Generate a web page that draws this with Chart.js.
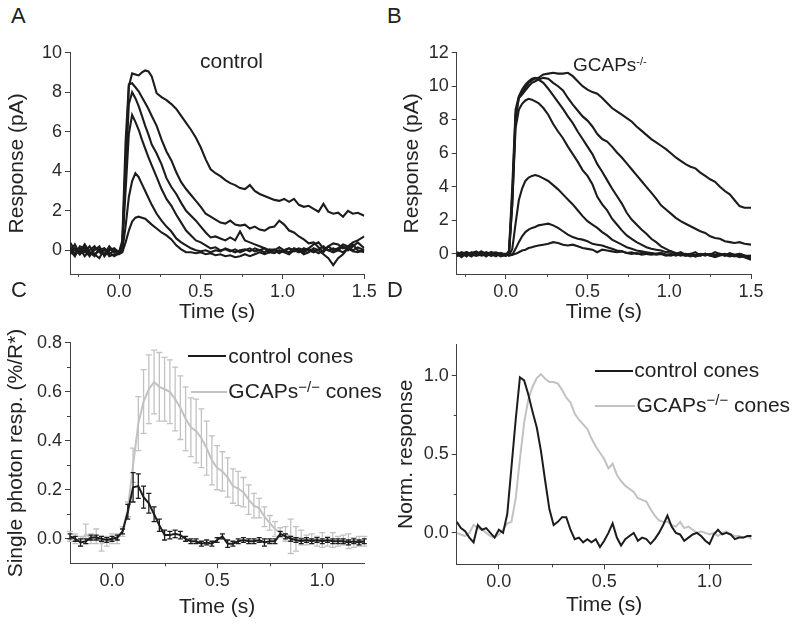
<!DOCTYPE html>
<html>
<head>
<meta charset="utf-8">
<script src="https://cdn.jsdelivr.net/npm/chart.js@4.4.1/dist/chart.umd.min.js"></script>
<style>
  body { margin: 0; width: 795px; height: 630px; position: relative; overflow: hidden; background: #fff;
         font-family: "Liberation Sans", Arial, sans-serif; color: #222; }
  canvas { position: absolute; }
  .lbl { position: absolute; white-space: nowrap; line-height: 1; }
  .sw { position: absolute; height: 2px; }
  .sp { position: relative; font-size: 15px; top: -6.5px; }
</style>
</head>
<body>
<canvas id="chartA" width="379" height="288" style="left:5px;top:37px"></canvas>
<canvas id="chartB" width="370" height="288" style="left:400px;top:37px"></canvas>
<canvas id="chartC" width="380" height="293" style="left:4px;top:327px"></canvas>
<canvas id="chartD" width="377" height="290" style="left:394px;top:328px"></canvas>

<div class="lbl" style="left:11px;top:4.9px;font-size:22px">A</div>
<div class="lbl" style="left:387px;top:4.9px;font-size:22px">B</div>
<div class="lbl" style="left:11px;top:278.9px;font-size:22px">C</div>
<div class="lbl" style="left:387px;top:278.9px;font-size:22px">D</div>

<div class="lbl" style="left:200px;top:49.9px;font-size:21px">control</div>
<div class="lbl" style="left:573px;top:54.9px;font-size:19px">GCAPs<span style="position:relative;font-size:11px;top:-5.5px">-/-</span></div>

<div class="sw" style="left:188px;top:355px;width:38px;background:#1c1c1c"></div>
<div class="lbl" style="left:228.3px;top:344.7px;font-size:21px">control cones</div>
<div class="sw" style="left:191px;top:391px;width:36px;background:#c2c2c2"></div>
<div class="lbl" style="left:228.3px;top:380.2px;font-size:21px">GCAPs<span class="sp">−/−</span> cones</div>

<div class="sw" style="left:595px;top:370px;width:38px;background:#1c1c1c"></div>
<div class="lbl" style="left:634.3px;top:358.9px;font-size:21px">control cones</div>
<div class="sw" style="left:595px;top:405px;width:40px;background:#c2c2c2"></div>
<div class="lbl" style="left:636.5px;top:393.9px;font-size:21px">GCAPs<span class="sp">−/−</span> cones</div>

<script>
// --- time bases (s) ---
const timeAB = [-0.3,-0.27,-0.24,-0.21,-0.18,-0.15,-0.12,-0.09,-0.06,-0.03,
  0,0.02,0.04,0.06,0.08,0.1,0.12,0.14,0.16,0.18,0.2,
  0.23,0.26,0.29,0.32,0.35,0.38,0.41,0.44,0.47,0.5,
  0.53,0.56,0.59,0.62,0.65,0.68,0.71,0.74,0.77,0.8,
  0.83,0.86,0.89,0.92,0.95,0.98,1.01,1.04,1.07,1.1,
  1.13,1.16,1.19,1.22,1.25,1.28,1.31,1.34,1.37,1.4,
  1.43,1.46,1.5];
const timeC = [-0.2,-0.175,-0.15,-0.125,-0.1,-0.075,-0.05,-0.025,0,0.025,
  0.05,0.075,0.1,0.125,0.15,0.175,0.2,0.225,0.25,0.275,
  0.3,0.325,0.35,0.375,0.4,0.425,0.45,0.475,0.5,0.525,
  0.55,0.575,0.6,0.625,0.65,0.675,0.7,0.725,0.75,0.775,
  0.8,0.825,0.85,0.875,0.9,0.925,0.95,0.975,1.0,1.025,
  1.05,1.075,1.1,1.125,1.15,1.175,1.2];
const timeD = [-0.2,-0.18,-0.16,-0.14,-0.12,-0.1,-0.08,-0.06,-0.04,-0.02,
  0,0.02,0.04,0.06,0.08,0.1,0.12,0.14,0.16,0.18,
  0.2,0.22,0.24,0.26,0.28,0.3,0.32,0.34,0.36,0.38,
  0.4,0.42,0.44,0.46,0.48,0.5,0.52,0.54,0.56,0.58,
  0.6,0.62,0.64,0.66,0.68,0.7,0.72,0.74,0.76,0.78,
  0.8,0.82,0.84,0.86,0.88,0.9,0.92,0.94,0.96,0.98,
  1.0,1.02,1.04,1.06,1.08,1.1,1.12,1.14,1.16,1.18,
  1.2];

// --- A: control, pA ---
const ctrl1 = [0.2,-0.2,0.1,-0.3,0.0,0.2,-0.1,-0.2,0.1,-0.1,
  -0.1,0.3,4.5,8.3,8.95,8.9,8.85,9.0,9.1,9.05,8.8,
  7.95,7.75,7.6,7.4,7.15,6.8,6.45,6.1,5.7,5.2,
  4.6,4.1,3.9,3.75,3.55,3.4,3.3,3.15,3.1,3.3,
  3.0,2.85,2.75,2.65,2.55,2.5,2.6,2.45,2.6,2.3,
  2.2,2.25,2.1,1.95,2.35,1.95,1.85,1.9,1.7,2.0,
  1.85,1.9,1.75];
const ctrl2 = [-0.1,0.3,-0.2,0.0,-0.3,0.1,0.0,-0.2,0.2,-0.1,
  -0.1,0.5,5.5,8.4,8.45,8.25,8.05,7.75,7.45,7.15,6.8,
  6.3,5.6,5.0,4.55,3.95,3.45,3.1,2.8,2.5,2.2,
  1.85,1.7,1.55,1.4,1.35,1.5,1.3,1.25,1.3,1.1,
  1.2,1.05,1.0,1.15,1.2,1.5,1.3,1.0,0.9,0.7,
  0.55,0.35,0.4,0.15,-0.1,0.2,0.35,0.3,0.1,0.2,
  0.4,0.5,0.7];
const ctrl3 = [0.4,0.0,-0.2,0.2,-0.1,-0.3,0.1,0.0,-0.2,0.0,
  -0.1,0.3,4.0,7.4,8.0,7.7,7.3,6.8,6.3,5.85,5.35,
  4.9,4.35,3.65,3.2,2.85,2.4,2.0,1.75,1.5,1.2,
  0.9,0.65,0.7,0.6,0.5,0.65,0.5,0.95,0.5,0.4,
  0.3,0.2,0.1,0.0,0.05,-0.1,0.0,0.1,-0.05,0.0,
  -0.1,0.05,0.0,-0.15,0.0,0.2,0.0,0.1,0.3,0.2,
  0.0,0.15,0.0];
const ctrl4 = [-0.2,0.1,0.0,-0.1,0.2,-0.2,-0.4,0.1,-0.1,-0.3,
  -0.15,0.2,3.0,5.9,6.85,6.5,6.1,5.6,5.15,4.7,4.3,
  3.7,3.1,2.6,2.25,1.8,1.4,1.0,0.75,0.5,0.4,
  0.25,0.1,0.15,0.0,0.05,-0.05,0.05,-0.1,0.0,0.1,
  -0.05,0.0,0.1,-0.1,0.0,0.15,0.0,-0.1,0.1,0.0,
  -0.2,-0.1,0.1,0.0,-0.2,-0.4,-0.75,-0.4,-0.2,0.1,
  0.3,0.0,-0.1];
const ctrl5 = [0.0,-0.3,0.2,0.1,-0.2,0.0,0.2,-0.3,0.0,0.1,
  -0.1,0.0,1.2,2.7,3.5,3.9,3.7,3.35,3.0,2.65,2.3,
  1.85,1.5,1.2,0.95,0.6,0.4,0.25,0.1,0.0,-0.05,
  0.0,-0.1,0.0,-0.05,0.1,0.0,-0.1,0.0,0.05,-0.05,
  0.1,0.0,-0.1,0.05,0.0,-0.15,0.0,0.1,0.0,-0.1,
  0.1,0.0,-0.1,0.05,0.2,0.0,-0.1,0.0,0.2,0.0,
  0.2,0.4,0.1];
const ctrl6 = [0.1,0.0,-0.1,0.3,-0.1,-0.2,0.0,0.1,-0.3,-0.2,
  -0.2,-0.1,0.4,1.0,1.45,1.65,1.7,1.65,1.6,1.45,1.3,
  1.1,0.9,0.75,0.55,0.25,0.05,-0.1,-0.1,-0.15,-0.1,
  -0.2,-0.15,-0.25,-0.2,-0.3,-0.25,-0.35,-0.3,-0.2,-0.3,
  -0.2,-0.1,-0.2,-0.1,-0.15,0.0,-0.1,-0.2,0.0,0.1,
  0.0,0.1,0.3,0.4,0.1,0.0,0.1,0.0,-0.1,0.1,
  -0.05,-0.1,0.0];

// --- B: GCAPs-/-, pA ---
const gcap1 = [-0.1,0.05,-0.15,0.1,-0.05,0.0,-0.1,0.1,-0.05,0.0,
  -0.1,0.0,3.0,8.0,9.3,9.6,9.9,10.2,10.35,10.45,10.5,
  10.7,10.75,10.8,10.75,10.75,10.8,10.6,10.3,10.0,9.8,
  9.65,9.55,9.3,9.0,8.7,8.5,8.3,8.1,7.9,7.6,
  7.35,7.1,6.85,6.65,6.45,6.25,6.0,5.75,5.55,5.35,
  5.2,5.1,4.85,4.65,4.45,4.3,4.0,3.75,3.55,3.2,
  2.85,2.75,2.75];
const gcap2 = [0.05,-0.1,0.0,-0.15,0.1,-0.05,0.05,-0.1,0.0,-0.15,
  -0.05,0.1,3.5,8.3,9.3,9.5,9.75,10.0,10.2,10.3,10.4,
  10.5,10.45,10.2,10.0,9.75,9.3,8.9,8.55,8.2,7.95,
  7.6,7.15,6.85,6.7,6.4,6.05,5.75,5.4,5.05,4.7,
  4.35,4.0,3.65,3.3,2.9,2.65,2.4,2.15,1.95,1.8,
  1.65,1.5,1.35,1.25,1.05,0.95,0.9,0.75,0.7,0.65,
  0.7,0.6,0.55];
const gcap3 = [-0.15,0.0,0.1,-0.05,-0.1,0.15,0.0,-0.1,0.05,-0.05,
  -0.1,0.2,4.0,8.6,9.4,9.8,10.1,10.3,10.45,10.5,10.4,
  10.2,9.85,9.45,9.05,8.65,8.2,7.8,7.3,6.85,6.4,
  5.95,5.35,4.9,4.4,3.9,3.45,3.0,2.45,2.05,1.75,
  1.45,1.2,0.9,0.7,0.45,0.3,0.15,0.05,0.0,-0.1,
  -0.05,-0.15,-0.1,0.0,-0.1,-0.2,-0.1,-0.05,-0.15,-0.1,
  -0.2,-0.15,-0.3];
const gcap4 = [0.0,-0.2,0.05,0.0,-0.1,-0.05,0.1,0.0,-0.15,0.05,
  -0.1,0.1,3.0,7.5,8.6,8.95,9.15,9.25,9.2,9.1,9.0,
  8.7,8.3,7.75,7.3,6.9,6.4,5.95,5.5,5.0,4.65,
  4.15,3.4,2.95,2.6,2.1,1.75,1.4,1.1,0.9,0.7,
  0.55,0.4,0.3,0.25,0.2,0.1,0.15,0.0,0.1,-0.05,
  0.0,0.1,-0.1,0.0,-0.05,0.1,0.0,-0.1,0.05,-0.05,
  0.0,-0.1,-0.2];
const gcap5 = [0.1,0.0,-0.1,0.05,0.15,-0.1,-0.05,0.1,0.0,-0.1,
  -0.05,-0.1,0.3,1.8,3.2,3.9,4.35,4.55,4.65,4.7,4.65,
  4.5,4.35,4.1,3.85,3.55,3.25,2.95,2.6,2.25,1.95,
  1.75,1.55,1.3,1.1,0.85,0.7,0.55,0.4,0.3,0.2,
  0.15,0.1,0.05,0.0,0.05,-0.05,0.0,-0.1,0.0,-0.05,
  -0.15,-0.05,0.0,-0.1,0.0,-0.1,-0.05,0.0,-0.1,-0.15,
  -0.05,-0.2,-0.35];
const gcap6 = [-0.05,0.1,0.0,-0.1,0.05,0.1,-0.15,0.05,0.1,0.0,
  0.0,-0.1,-0.05,0.3,0.7,1.05,1.3,1.45,1.55,1.6,1.7,
  1.75,1.8,1.7,1.55,1.35,1.15,1.0,0.9,0.85,0.75,
  0.6,0.55,0.5,0.4,0.3,0.2,0.15,0.05,0.0,0.05,
  -0.05,0.0,0.05,-0.05,0.0,-0.1,-0.05,0.0,-0.1,0.0,
  -0.05,-0.15,-0.05,0.0,-0.1,-0.05,0.0,-0.1,-0.05,-0.1,
  0.0,-0.1,-0.15];
const gcap7 = [0.05,-0.05,0.1,0.0,-0.05,0.0,0.05,-0.1,-0.05,0.05,
  -0.1,0.0,-0.05,0.0,0.1,0.2,0.25,0.35,0.4,0.45,0.5,
  0.55,0.6,0.7,0.65,0.55,0.5,0.55,0.45,0.35,0.3,
  0.25,0.1,0.25,0.2,0.15,0.1,0.15,0.05,0.1,0.0,
  0.05,0.0,-0.05,0.0,0.05,-0.05,-0.1,0.0,-0.05,-0.1,
  0.0,-0.1,-0.05,0.0,-0.05,-0.1,0.0,-0.05,-0.1,-0.05,
  -0.1,-0.15,-0.1];

// --- C: single photon responses (%/R*), mean and SEM ---
const spCtrl = [0.01,0.0,-0.015,-0.01,0.005,0.005,0.0,-0.005,0.0,0.005,
  0.03,0.11,0.21,0.215,0.17,0.145,0.1,0.055,0.015,0.015,
  0.02,0.015,0.0,-0.01,-0.01,-0.02,-0.015,-0.02,-0.005,0.01,
  -0.02,-0.02,-0.01,-0.005,-0.01,-0.01,-0.005,-0.015,-0.01,-0.01,
  0.02,0.01,0.0,-0.005,-0.01,-0.005,-0.01,-0.005,-0.01,-0.005,
  -0.01,-0.01,-0.01,-0.015,-0.01,-0.015,-0.01];
const spCtrlErr = [0.01,0.01,0.015,0.01,0.01,0.01,0.01,0.01,0.01,0.01,
  0.01,0.03,0.06,0.05,0.045,0.04,0.03,0.025,0.02,0.015,
  0.015,0.015,0.01,0.01,0.01,0.01,0.01,0.01,0.01,0.01,
  0.015,0.01,0.01,0.01,0.01,0.01,0.01,0.015,0.01,0.01,
  0.01,0.01,0.01,0.01,0.01,0.01,0.01,0.01,0.01,0.01,
  0.01,0.01,0.01,0.01,0.01,0.01,0.01];
const spGcap = [0.01,0.0,-0.01,0.02,0.0,0.01,-0.02,-0.01,0.0,0.0,
  0.03,0.12,0.3,0.47,0.56,0.61,0.64,0.62,0.61,0.6,
  0.57,0.535,0.49,0.455,0.44,0.41,0.37,0.32,0.29,0.275,
  0.25,0.215,0.205,0.19,0.16,0.135,0.125,0.09,0.065,0.04,
  0.025,0.02,0.01,0.0,0.005,-0.005,0.0,-0.01,-0.005,-0.01,
  -0.005,-0.01,-0.005,-0.01,-0.015,-0.01,-0.01];
const spGcapErr = [0.02,0.02,0.02,0.04,0.02,0.03,0.03,0.02,0.02,0.02,
  0.02,0.03,0.07,0.11,0.13,0.14,0.13,0.14,0.13,0.13,
  0.13,0.13,0.13,0.12,0.13,0.12,0.11,0.1,0.09,0.08,
  0.08,0.07,0.07,0.06,0.06,0.05,0.04,0.04,0.03,0.03,
  0.02,0.03,0.07,0.05,0.03,0.02,0.02,0.02,0.03,0.02,
  0.03,0.02,0.02,0.03,0.02,0.02,0.02];

// --- D: normalised responses ---
const normCtrl = [0.07,0.03,0.01,-0.03,-0.06,0.05,0.02,0.03,0.0,-0.03,
  0.02,0.0,0.12,0.42,0.72,0.99,0.97,0.88,0.77,0.67,
  0.52,0.33,0.15,0.05,0.07,0.1,0.1,0.02,-0.04,-0.03,
  -0.06,-0.04,-0.06,-0.04,-0.09,-0.05,0.0,0.06,-0.03,-0.08,
  -0.04,-0.02,0.0,-0.05,-0.03,-0.04,-0.07,-0.04,0.0,0.05,
  0.11,0.04,0.0,-0.01,-0.05,-0.03,-0.01,0.0,-0.02,-0.05,
  -0.07,-0.01,0.02,-0.01,0.0,-0.01,-0.04,-0.03,-0.03,-0.02,
  -0.02];
const normGcap = [0.0,-0.01,-0.02,0.0,0.05,0.03,0.02,0.0,-0.02,-0.03,
  -0.01,0.02,0.06,0.07,0.22,0.47,0.7,0.85,0.93,0.985,
  1.01,0.98,0.96,0.96,0.95,0.91,0.86,0.83,0.76,0.72,
  0.69,0.66,0.6,0.55,0.51,0.47,0.41,0.44,0.37,0.33,
  0.3,0.28,0.26,0.22,0.21,0.2,0.15,0.11,0.08,0.07,
  0.07,0.05,0.04,0.07,0.03,0.04,0.02,0.0,0.01,0.0,
  -0.01,0.0,-0.02,0.0,0.01,-0.01,-0.02,-0.02,-0.03,-0.02,
  -0.04];

// --- ticks ---
const ticksX_AB = [0, 0.5, 1.0, 1.5];
const minorX_AB = [-0.25, 0.25, 0.75, 1.25];
const ticksY_A = [0, 2, 4, 6, 8, 10];
const ticksY_B = [0, 2, 4, 6, 8, 10, 12];
const ticksX_CD = [0, 0.5, 1.0];
const minorX_CD = [0.25, 0.75];
const ticksY_C = [0, 0.2, 0.4, 0.6, 0.8];
const minorY_C = [0.1, 0.3, 0.5, 0.7];
const ticksY_D = [0, 0.5, 1.0];
const minorY_D = [0.25, 0.75];

Chart.defaults.font.family = '"Liberation Sans", Arial, sans-serif';
const AXIS = '#404040';
const INK = '#1c1c1c';
const GREY = '#c2c2c2';

const pts = (t, v) => t.map((x, i) => ({ x, y: v[i] }));

function minorTicks(xMinor, yMinor) {
  return {
    id: 'minorTicks',
    afterDraw(chart) {
      const { ctx, scales: { x, y } } = chart;
      ctx.save();
      ctx.strokeStyle = AXIS;
      ctx.lineWidth = 1;
      ctx.beginPath();
      xMinor.forEach(v => {
        const px = Math.round(x.getPixelForValue(v)) + 0.5;
        ctx.moveTo(px, x.top);
        ctx.lineTo(px, x.top + 3);
      });
      yMinor.forEach(v => {
        const py = Math.round(y.getPixelForValue(v)) + 0.5;
        ctx.moveTo(y.right, py);
        ctx.lineTo(y.right - 3, py);
      });
      ctx.stroke();
      ctx.restore();
    }
  };
}

// error bars are painted just before their own line
const errorBars = {
  id: 'errorBars',
  beforeDatasetDraw(chart, args) {
    const ds = chart.data.datasets[args.index];
    if (!ds.errors) return;
    const { ctx, scales: { x, y } } = chart;
    ctx.save();
    ctx.strokeStyle = ds.borderColor;
    ctx.lineWidth = 1.3;
    ctx.beginPath();
    ds.data.forEach((p, i) => {
      const e = ds.errors[i];
      const px = x.getPixelForValue(p.x);
      const y1 = y.getPixelForValue(p.y + e), y2 = y.getPixelForValue(p.y - e);
      ctx.moveTo(px, y1); ctx.lineTo(px, y2);
      ctx.moveTo(px - ds.cap, y1); ctx.lineTo(px + ds.cap, y1);
      ctx.moveTo(px - ds.cap, y2); ctx.lineTo(px + ds.cap, y2);
    });
    ctx.stroke();
    ctx.restore();
  }
};

function axis(min, max, ticks, fmt, title, size, horizontal) {
  return {
    type: 'linear',
    min, max,
    afterBuildTicks: s => { s.ticks = ticks.map(v => ({ value: v })); },
    afterFit: s => { if (horizontal) s.height = size; else s.width = size; },
    grid: { drawOnChartArea: false, tickLength: 5, tickColor: AXIS, tickWidth: 1 },
    border: { color: AXIS, width: 1 },
    ticks: { font: { size: 18 }, padding: horizontal ? 2 : 3, color: '#2a2a2a',
             maxRotation: 0, autoSkip: false, callback: fmt },
    title: { display: true, text: title, font: { size: 21 }, color: '#222', padding: 0 }
  };
}

const line = (t, v, color, width) => ({
  data: pts(t, v), borderColor: color, borderWidth: width,
  pointRadius: 0, tension: 0, fill: false
});

function panel(id, datasets, x, y, pad, minors) {
  new Chart(document.getElementById(id), {
    type: 'line',
    data: { datasets },
    options: {
      responsive: false, animation: false, events: [],
      layout: { padding: pad },
      scales: { x, y },
      plugins: { legend: { display: false }, tooltip: { enabled: false } }
    },
    plugins: [minors, errorBars]
  });
}

const fmt1 = v => v.toFixed(1);
const fmt0 = v => String(v);

panel('chartA',
  [ctrl1, ctrl2, ctrl3, ctrl4, ctrl5, ctrl6].map(v => line(timeAB, v, INK, 2.1)),
  axis(-0.3, 1.5, ticksX_AB, fmt1, 'Time (s)', 51, true),
  axis(-1.2, 10, ticksY_A, fmt0, 'Response (pA)', 65, false),
  { top: 15.7, right: 19.7, left: 0, bottom: 0 },
  minorTicks(minorX_AB, []));

panel('chartB',
  [gcap1, gcap2, gcap3, gcap4, gcap5, gcap6, gcap7].map(v => line(timeAB, v, INK, 2.1)),
  axis(-0.3, 1.5, ticksX_AB, fmt1, 'Time (s)', 51, true),
  axis(-1.2, 12, ticksY_B, fmt0, 'Response (pA)', 56.7, false),
  { top: 15.7, right: 19, left: 0, bottom: 0 },
  minorTicks(minorX_AB, []));

panel('chartC',
  [Object.assign(line(timeC, spCtrl, INK, 2), { errors: spCtrlErr, cap: 2.5 }),
   Object.assign(line(timeC, spGcap, GREY, 2), { errors: spGcapErr, cap: 3 })],
  axis(-0.2, 1.2, ticksX_CD, fmt1, 'Time (s)', 56.7, true),
  axis(-0.1, 0.8, ticksY_C, fmt1, 'Single photon resp. (%/R*)', 66, false),
  { top: 15.7, right: 19.7, left: 0, bottom: 0 },
  minorTicks(minorX_CD, minorY_C));

panel('chartD',
  [line(timeD, normCtrl, INK, 2), line(timeD, normGcap, GREY, 2)],
  axis(-0.2, 1.2, ticksX_CD, fmt1, 'Time (s)', 53.7, true),
  axis(-0.2, 1.2, ticksY_D, fmt1, 'Norm. response', 62.7, false),
  { top: 16.3, right: 19.3, left: 0, bottom: 0 },
  minorTicks(minorX_CD, minorY_D));
</script>
</body>
</html>
